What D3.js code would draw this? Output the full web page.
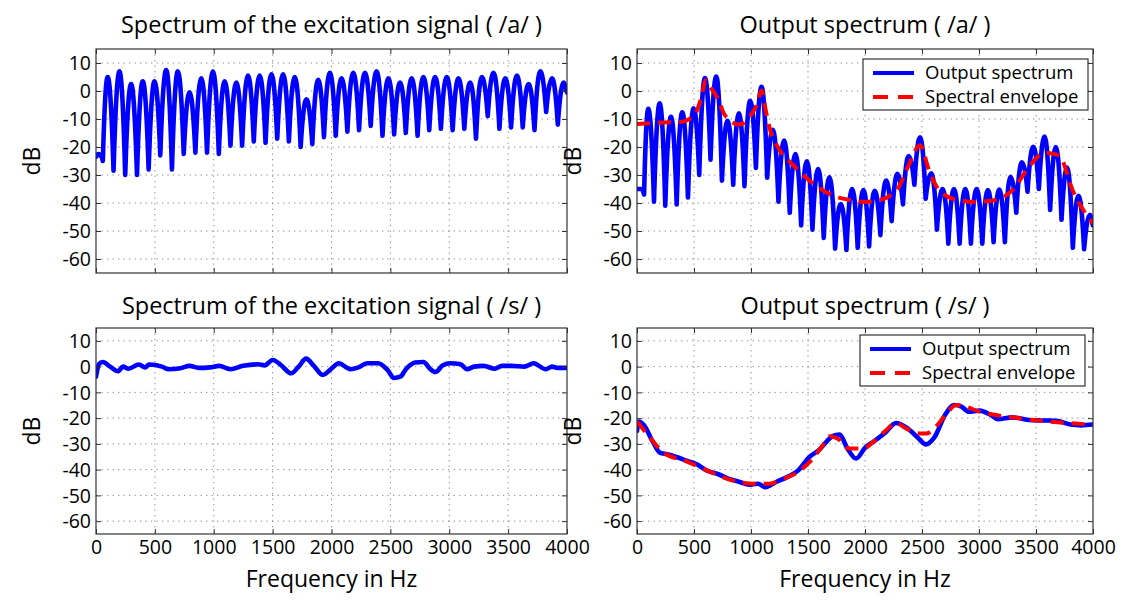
<!DOCTYPE html>
<html><head><meta charset="utf-8">
<script src="https://cdn.jsdelivr.net/npm/d3@7"></script>
<style>
body{margin:0;background:#fff}
svg{display:block}
text{font-family:"Open Sans",sans-serif;fill:#000}
</style>
</head><body>
<svg id="chart" width="1127" height="606"></svg>
<script>
// ---------------- DATA ----------------
const xTicks = [0,500,1000,1500,2000,2500,3000,3500,4000];
const yTicks = [-60,-50,-40,-30,-20,-10,0,10];
const titles = ["Spectrum of the excitation signal ( /a/ )","Output spectrum ( /a/ )",
                "Spectrum of the excitation signal ( /s/ )","Output spectrum ( /s/ )"];
const legendLabels = ["Output spectrum","Spectral envelope"];

// harmonic frequencies (F0 ≈ 99 Hz) and the dips between them
const harmonicHz = [99,199,298,397,497,596,695,794,894,993,1092,1192,1291,1390,1490,1589,1688,1787,1887,1986,
                    2085,2185,2284,2383,2483,2582,2681,2780,2880,2979,3078,3178,3277,3376,3476,3575,3674,3773,3873,3972];
const troughHz   = [149,248,348,447,546,645,745,844,943,1043,1142,1241,1340,1440,1539,1638,1738,1837,1936,
                    2036,2135,2234,2333,2433,2532,2631,2731,2830,2929,3029,3128,3227,3327,3426,3525,3624,3724,3823,3922];

// excitation /a/
const excA_start  = [[0,-23.5],[20,-22.5],[40,-23],[58,-25]];
const excA_peaks  = [5,7,2.5,3.5,3.5,7.5,7,-0.5,4.5,7,3.5,3,5.5,5.5,6,6,5,-3,4,6.5,
                     4.5,6.5,6.5,7,4.5,3,4.5,5,5,5,4.5,3,5,6.5,4.5,5.5,2.5,7,4.5,3];
const excA_troughs= [-28.5,-30,-30,-28,-23,-28,-22.5,-22,-22,-22.5,-19.5,-19.5,-18,-18.5,-17,-18,-20,-19,-16.5,
                     -16,-14.5,-14,-12.5,-16,-15.5,-15,-16,-14,-13.5,-14,-13.5,-17,-9,-13.5,-13,-13,-14,-7.5,-12];
const excA_end    = [[4000,-0.5]];

// output /a/
const outA_start  = [[0,-35],[40,-35],[62,-37]];
const outA_peaks  = [-6.4,-4.4,-9.2,-7.6,-6.2,4.6,5.2,-10.6,-8,-3.5,1.5,-13.9,-17.7,-22.5,-25.1,-27.9,-30.8,-40.4,-35,-35.4,
                     -35.6,-32,-29.6,-23.2,-16.5,-29.4,-35,-35,-35,-35,-35.4,-35.2,-30.6,-25.5,-19.9,-16.3,-20,-27.3,-37.4,-44.2];
const outA_troughs= [-39.5,-41,-40.5,-38,-30,-24.5,-32,-33.5,-34,-27.5,-31,-39.5,-43.5,-48,-49.5,-52.5,-56.3,-56.8,-56,
                     -55.5,-51.5,-46.5,-40.5,-33.5,-38.5,-49.5,-54.5,-54.5,-54.5,-54.5,-54,-54,-43.5,-36,-35,-42.5,-46,-56,-56.5];
const outA_end    = [[4000,-48]];
const envA = [[0,-11.8],[31,-11.7],[200,-11.3],[394,-11],[460,-10],[504,-8.7],[560,-3],[605,3.8],[650,1],[709,-2.7],
              [772,-8.7],[898,-12],[992,-9],[1050,-5],[1093,0.2],[1130,-7],[1165,-13.5],[1244,-20.6],[1370,-26.5],
              [1528,-32.5],[1717,-37.3],[1874,-39],[2000,-39.6],[2126,-39],[2284,-35],[2378,-27],[2482,-19.4],
              [2567,-29],[2662,-36],[2819,-39],[2977,-39.6],[3134,-39],[3292,-35.5],[3449,-26.5],[3575,-22],
              [3701,-23],[3827,-36],[3922,-43],[3985,-46.5],[4000,-47]];

// excitation /s/
const excS = [[0,-3.9],[25,0.9],[57,1.8],[120,0],[188,-1.8],[230,0],[276,-0.8],[364,0.8],[418,-0.3],[450,0.8],
              [560,0],[612,-1],[716,-0.6],[795,0.3],[873,-0.5],[967,-0.3],[1046,0.3],[1140,-1],[1250,0.3],[1375,0.9],
              [1432,0.5],[1501,2.6],[1564,0.9],[1658,-2.6],[1721,0],[1784,3.1],[1847,0.5],[1925,-3.2],[2004,-0.6],
              [2061,1.3],[2161,-1],[2224,-0.4],[2302,1.3],[2396,1.3],[2475,-1.3],[2531,-4.4],[2585,-3.9],[2632,-1],
              [2710,1.6],[2782,1.8],[2836,-0.8],[2883,-2.1],[2946,0.5],[3009,1.3],[3097,0.9],[3150,-1],[3213,0],
              [3291,0.3],[3386,-0.8],[3449,0.3],[3527,0.3],[3637,0],[3716,1.3],[3820,-1],[3873,0],[3920,-0.5],[4000,-0.5]];

// output /s/
const outS = [[0,-25],[16,-21.3],[57,-22.5],[137,-29],[200,-33.4],[265,-34],[360,-35.3],[440,-36.6],[520,-37.8],
              [615,-40.4],[710,-41.7],[806,-43.6],[902,-44.8],[982,-45.9],[1061,-45.5],[1125,-46.8],[1221,-44.8],
              [1316,-42.9],[1412,-40.4],[1507,-35.3],[1603,-32.1],[1667,-28.9],[1715,-27],[1778,-26.4],[1842,-31.5],
              [1922,-35.7],[2001,-31.5],[2081,-28.9],[2177,-25.7],[2272,-21.9],[2368,-23.8],[2464,-27.6],[2534,-30.2],
              [2607,-27.6],[2703,-18.7],[2782,-14.9],[2846,-15.5],[2910,-17.5],[3005,-17.1],[3101,-18.7],[3165,-20.4],
              [3292,-19.7],[3420,-20.6],[3547,-20.9],[3675,-21],[3802,-22.5],[3898,-22.8],[4000,-22.5]];
const envS = [[0,-21.3],[105,-27],[233,-33.4],[424,-36.6],[647,-41],[838,-44.2],[1029,-45.5],[1157,-45.5],
              [1284,-43.6],[1428,-40.4],[1539,-35.9],[1635,-30.2],[1692,-27],[1762,-28],[1858,-31.8],[1985,-31.8],
              [2081,-28.9],[2177,-25],[2272,-21.9],[2368,-24.2],[2495,-26],[2534,-26],[2623,-23.2],[2719,-18.1],
              [2798,-14.9],[2878,-15.5],[3005,-17.5],[3133,-18.7],[3292,-19.7],[3452,-20.6],[3611,-21.3],[3770,-21.9],[4000,-22.5]];

function harmonicSeries(start, peaks, troughs, end){
  const pts = start.slice();
  peaks.forEach((p,i)=>{
    pts.push([harmonicHz[i], p]);
    if(i < troughs.length) pts.push([troughHz[i], troughs[i]]);
  });
  return pts.concat(end);
}
const seriesExcA = harmonicSeries(excA_start, excA_peaks, excA_troughs, excA_end);
const seriesOutA = harmonicSeries(outA_start, outA_peaks, outA_troughs, outA_end);

// curve for harmonic spectra: rounded peaks, narrower dips between harmonics
function curveHarmonic(context){
  let pts;
  return {
    areaStart(){}, areaEnd(){},
    lineStart(){ pts = []; },
    point(x,y){ pts.push([+x,+y]); },
    lineEnd(){
      const n = pts.length; if(!n) return;
      const kind = i => {
        const p = pts[i], a = pts[i-1], b = pts[i+1];
        if(!a || !b) return "end";
        if(p[1] <= a[1] && p[1] <= b[1]) return "peak";
        if(p[1] >= a[1] && p[1] >= b[1]) return "notch";
        return "mid";
      };
      context.moveTo(pts[0][0], pts[0][1]);
      for(let i=0;i<n-1;i++){
        const a = pts[i], b = pts[i+1], dx = b[0]-a[0], dy = b[1]-a[1];
        const ka = kind(i), kb = kind(i+1);
        let c1, c2;
        if(ka==="notch") c1 = [a[0]+dx*0.2, a[1]+dy*0.4];
        else if(ka==="peak") c1 = [a[0]+dx*0.45, a[1]];
        else c1 = [a[0]+dx*0.33, a[1]+dy*0.2];
        if(kb==="notch") c2 = [b[0]-dx*0.2, b[1]-dy*0.4];
        else if(kb==="peak") c2 = [b[0]-dx*0.45, b[1]];
        else c2 = [b[0]-dx*0.33, b[1]-dy*0.2];
        context.bezierCurveTo(c1[0],c1[1],c2[0],c2[1],b[0],b[1]);
      }
    }
  };
}

// ---------------- LAYOUT ----------------
const svg = d3.select("#chart");
const FONT = '"Open Sans",sans-serif';
const panels = [
  {x0:96, x1:567, y0:49, y1:273, title:titles[0], tY:33, lines:[{d:seriesExcA,c:"#0000ff",h:true}], xlab:false},
  {x0:637,x1:1093,y0:49, y1:273, title:titles[1], tY:33, lines:[{d:seriesOutA,c:"#0000ff",h:true},{d:envA,c:"#ff0000",dash:true}], xlab:false, legend:{x:863,y:59}},
  {x0:96, x1:567, y0:328,y1:534, title:titles[2], tY:314, lines:[{d:excS,c:"#0000ff"}], xlab:true},
  {x0:637,x1:1093,y0:328,y1:534, title:titles[3], tY:314, lines:[{d:outS,c:"#0000ff"},{d:envS,c:"#ff0000",dash:true}], xlab:true, legend:{x:860,y:335}}
];

panels.forEach((p,pi)=>{
  const x = d3.scaleLinear().domain([0,4000]).range([p.x0,p.x1]);
  const y = d3.scaleLinear().domain([-65,15]).range([p.y1,p.y0]);
  const g = svg.append("g");

  g.selectAll(".gx").data(xTicks.slice(1,-1)).enter().append("line")
    .attr("x1",d=>x(d)).attr("x2",d=>x(d)).attr("y1",p.y0).attr("y2",p.y1)
    .attr("stroke","#8a8a8a").attr("stroke-width",1).attr("stroke-dasharray","1.3,4.2");
  g.selectAll(".gy").data(yTicks).enter().append("line")
    .attr("x1",p.x0).attr("x2",p.x1).attr("y1",d=>y(d)).attr("y2",d=>y(d))
    .attr("stroke","#8a8a8a").attr("stroke-width",1).attr("stroke-dasharray","1.3,4.2");

  const cid = "clip"+pi;
  svg.append("clipPath").attr("id",cid).append("rect")
    .attr("x",p.x0).attr("y",p.y0).attr("width",p.x1-p.x0).attr("height",p.y1-p.y0);

  p.lines.forEach(l=>{
    const line = d3.line().x(d=>x(d[0])).y(d=>y(d[1])).curve(l.h ? curveHarmonic : d3.curveMonotoneX);
    g.append("path").attr("d",line(l.d)).attr("clip-path",`url(#${cid})`)
      .attr("fill","none").attr("stroke",l.c).attr("stroke-width",l.dash?4:4.6)
      .attr("stroke-linejoin","round").attr("stroke-linecap",l.dash?"butt":"round")
      .attr("stroke-dasharray",l.dash?"13,8":null);
  });

  const ax = (gen, tx, ty)=> g.append("g").attr("transform",`translate(${tx},${ty})`).call(gen);
  const left = ax(d3.axisLeft(y).tickValues(yTicks).tickSize(-5).tickPadding(5).tickFormat(d3.format("d")), p.x0, 0);
  const right = ax(d3.axisRight(y).tickValues(yTicks).tickSize(-5).tickFormat(""), p.x1, 0);
  const top = ax(d3.axisTop(x).tickValues(xTicks).tickSize(-5).tickFormat(""), 0, p.y0);
  const bottom = ax(d3.axisBottom(x).tickValues(xTicks).tickSize(-5).tickPadding(6)
                   .tickFormat(p.xlab? d3.format("d") : ""), 0, p.y1);
  [left,right,top,bottom].forEach(a=>{
    a.attr("font-size",null).attr("font-family",null);
    a.selectAll(".domain").remove();
    a.selectAll(".tick line").attr("stroke","#333");
    a.selectAll("text").attr("font-size",19.5).attr("font-family",FONT).attr("fill","#000");
  });
  left.selectAll("text").attr("dy","0.35em").text(d=>d3.format("d")(d).replace("\u2212","-"));

  g.append("rect").attr("x",p.x0).attr("y",p.y0).attr("width",p.x1-p.x0).attr("height",p.y1-p.y0)
    .attr("fill","none").attr("stroke","#333").attr("stroke-width",1.2);

  svg.append("text").attr("x",(p.x0+p.x1)/2).attr("y",p.tY).attr("text-anchor","middle")
    .attr("font-size",23.5).text(p.title);
  svg.append("text").attr("transform",`translate(${p.x0-56},${(p.y0+p.y1)/2}) rotate(-90)`)
    .attr("text-anchor","middle").attr("font-size",23).text("dB");
  if(p.xlab){
    svg.append("text").attr("x",(p.x0+p.x1)/2).attr("y",587).attr("text-anchor","middle")
      .attr("font-size",23).text("Frequency in Hz");
  }

  if(p.legend){
    const L = p.legend, lw = 225, lh = 51;
    const lg = svg.append("g").attr("transform",`translate(${L.x},${L.y})`);
    lg.append("rect").attr("width",lw).attr("height",lh).attr("fill","#fff").attr("stroke","#333").attr("stroke-width",1.2);
    const rows = [{c:"#0000ff",dash:null,t:legendLabels[0],yy:14},{c:"#ff0000",dash:"15,10",t:legendLabels[1],yy:38}];
    rows.forEach(r=>{
      lg.append("line").attr("x1",10).attr("x2",51).attr("y1",r.yy).attr("y2",r.yy)
        .attr("stroke",r.c).attr("stroke-width",4).attr("stroke-dasharray",r.dash);
      lg.append("text").attr("x",62).attr("y",r.yy).attr("dy","0.35em").attr("font-size",18.5).text(r.t);
    });
  }
});
</script>
</body></html>
